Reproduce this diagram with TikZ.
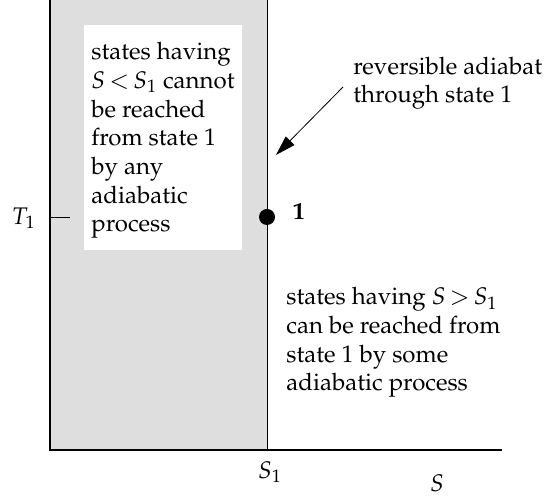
\documentclass[tikz,border=0pt]{standalone}
\usepackage[T1]{fontenc}
\usepackage{mathpazo}
\definecolor{areagray}{HTML}{DEDEDE}
\usetikzlibrary{arrows.meta, positioning}

\begin{document}
\begin{tikzpicture}[
  x=0.5pt, y=0.5pt,
  font=\fontsize{12}{14.35}\selectfont,
  axis/.style={line width=0.7pt},
  note/.style={align=left, inner sep=0pt, anchor=base west},
  pointer/.style={-{Triangle[length=10pt,width=6pt]}, line width=0.4pt},
]
  \useasboundingbox (0,0) rectangle (555,496);

  % region S < S_1
  \fill[areagray] (50,46) rectangle (267,496);
  \fill[white] (84,246) rectangle (242,471);

  \coordinate (origin) at (50,46);
  \coordinate (yend)   at (50,496);
  \coordinate (xend)   at (502,46);
  \coordinate (s1foot) at (267,46);
  \coordinate (s1top)  at (267,496);
  \coordinate (t1)     at (50,278);
  \coordinate (t1tick) at (70,278);

  \draw[axis] (yend) -- (origin) -- (xend);
  \draw[line width=0.5pt] (s1foot) -- (s1top);
  \draw[line width=0.5pt] (t1) -- (t1tick);

  \node[inner sep=0pt, left=7pt of t1] (t1lab) {$T_1$};
  \node (s1lab) at (270,24) {$S_1$};
  \node (slab)  at (437,13) {$S$};

  \node[circle, fill, inner sep=0pt, minimum size=8pt] (state1) at (267,279) {};
  \node[inner sep=0pt, right=8.5pt of state1, yshift=2.5pt] (onelab) {\textbf{1}};

  % anchors sit on the last line of each text
  \node[note] (lower) at (91,264)
    {states having\\$S\,{<}\,S_1$ cannot\\be reached\\from state 1\\by any\\adiabatic\\process};
  \node[note] (adiabat) at (353,393)
    {reversible adiabat\\through state 1};
  \node[note] (higher) at (286,105)
    {states having $S\,{>}\,S_1$\\can be reached from\\state 1 by some\\adiabatic process};

  \coordinate (tail) at (343,409);
  \coordinate (tip)  at (276,341);
  \draw[pointer] (tail) -- (tip);
\end{tikzpicture}
\end{document}
